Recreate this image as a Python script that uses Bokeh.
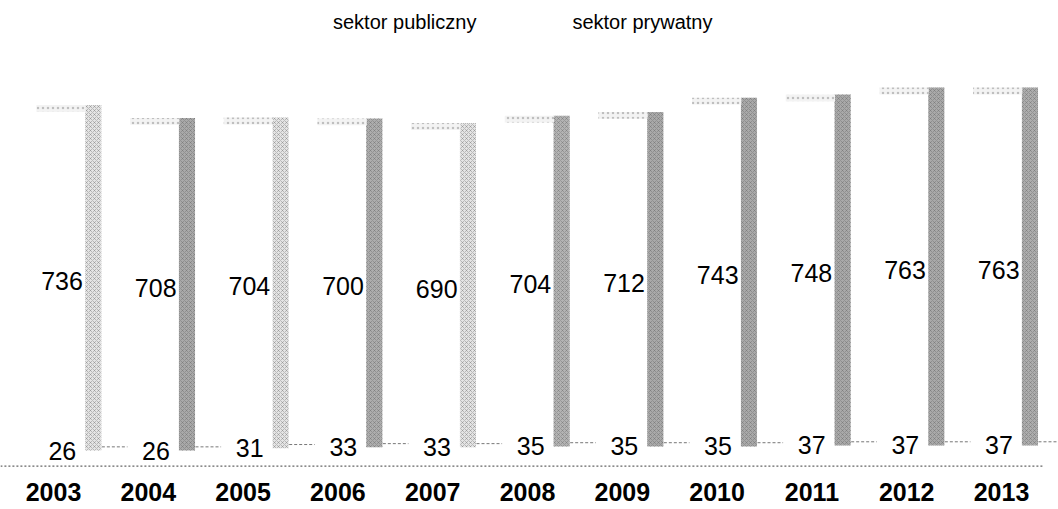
from bokeh.plotting import figure
from bokeh.models import ColumnDataSource, Range1d, Legend, LegendItem
from bokeh.core.properties import value
from bokeh.transform import dodge
from bokeh.embed import file_html
from bokeh.resources import INLINE

# ---- data ----
years = ["2003", "2004", "2005", "2006", "2007", "2008", "2009", "2010", "2011", "2012", "2013"]
publiczny = [26, 26, 31, 33, 33, 35, 35, 35, 37, 37, 37]
prywatny = [736, 708, 704, 700, 690, 704, 712, 743, 748, 763, 763]
series_names = ["sektor publiczny", "sektor prywatny"]

# ---- styles (scan shading of the side faces) ----
side_fill = ["#e4e4e4", "#a9a9a9", "#e4e4e4", "#adadad", "#e4e4e4", "#b3b3b3",
             "#a9a9a9", "#a9a9a9", "#a9a9a9", "#a9a9a9", "#adadad"]
FONT = "Liberation Sans"
DEPTH = 15          # 3-D depth of the bars, in value units
PERSPECTIVE = 0.012 # bars drift slightly left of their labels (3-D projection)

idx = list(range(len(years)))
total = [a + b for a, b in zip(publiczny, prywatny)]
src = ColumnDataSource(dict(
    x=idx,
    bx=[i - PERSPECTIVE * i for i in idx],
    year=years, pub=publiczny, priv=prywatny, total=total,
    mid=[a + b / 2 for a, b in zip(publiczny, prywatny)],
    zero=[0] * len(idx),
    side_top=[t + DEPTH for t in total],
    floor=[p + 8 for p in publiczny],
    side_fill=side_fill,
    pub_lbl=[str(v) for v in publiczny],
    priv_lbl=[str(v) for v in prywatny],
    year_y=[-65] * len(idx),
))

p = figure(width=1058, height=509, output_backend="svg", toolbar_location=None,
           x_range=Range1d(-0.559, 10.601), y_range=Range1d(-102.2, 1004.3),
           min_border_left=0, min_border_right=0, min_border_top=0, min_border_bottom=0,
           outline_line_color=None, background_fill_color="white")
p.axis.visible = False
p.grid.visible = False

# front faces (white, as in the scan)
r_pub = p.vbar(x=dodge("bx", 0.05), width=0.52, bottom="zero", top="pub", source=src,
               fill_color="white", line_color=None)
r_priv = p.vbar(x=dodge("bx", 0.05), width=0.52, bottom="pub", top="total", source=src,
                fill_color="white", line_color=None)

# side faces of the private segment
p.vbar(x=dodge("bx", 0.42), width=0.17, bottom="pub", top="side_top", source=src,
       fill_color="side_fill", line_color=None,
       hatch_pattern="diagonal_cross", hatch_color="#555555", hatch_scale=4,
       hatch_weight=0.7, hatch_alpha=0.45)
# top faces (faint)
p.vbar(x=dodge("bx", 0.08), width=0.52, bottom="total", top="side_top", source=src,
       fill_color="#f3f3f3", line_color=None,
       hatch_pattern="dot", hatch_color="#8a8a8a", hatch_scale=5, hatch_alpha=0.5)

# floor back edges and baseline
p.segment(x0=dodge("bx", 0.51), x1=dodge("bx", 0.78), y0="floor", y1="floor", source=src,
          line_color="#777777", line_width=1, line_dash="3 2")
p.line(x=[idx[0] - 0.56, idx[-1] + 0.45], y=[-8, -8], line_color="#666666",
       line_width=1.3, line_dash="2 2")

# value labels
p.text(x=dodge("bx", 0.31), y="mid", text="priv_lbl", source=src,
       text_align="right", text_baseline="middle", text_font=value(FONT),
       text_font_size="25px", text_color="black")
p.text(x=dodge("bx", 0.24), y="pub", text="pub_lbl", source=src,
       text_align="right", text_baseline="middle", text_font=value(FONT),
       text_font_size="25px", text_color="black")

# category labels
p.text(x="x", y="year_y", text="year", source=src, text_align="center",
       text_baseline="middle", text_font=value(FONT), text_font_size="25px",
       text_font_style="bold", text_color="black")

legend = Legend(items=[LegendItem(label=series_names[0], renderers=[r_pub]),
                       LegendItem(label=series_names[1], renderers=[r_priv])],
                orientation="horizontal", location=(305, 475),
                label_text_font=FONT, label_text_font_size="20px", label_text_color="black",
                glyph_width=20, glyph_height=22, label_height=22, label_standoff=8,
                spacing=68, padding=0, margin=0,
                border_line_color=None, background_fill_alpha=0)
p.add_layout(legend, "center")

open("out.html", "w").write(file_html(p, INLINE))
